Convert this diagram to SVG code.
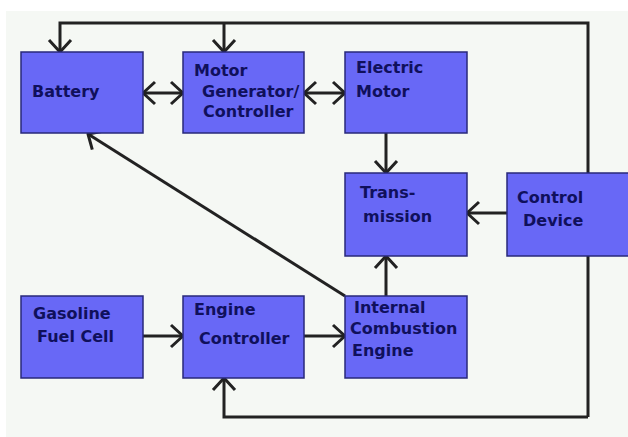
<svg xmlns="http://www.w3.org/2000/svg" width="628" height="437" viewBox="0 0 628 437">
<style>
.box{fill:#6868f6;stroke:#28287a;stroke-width:1.5}
.lbl{font-family:"DejaVu Sans","Liberation Sans",sans-serif;font-weight:bold;font-size:16px;fill:#10105c}
.ln{fill:none;stroke:#222;stroke-width:3}
</style>
<defs>
<marker id="a" viewBox="-3 -14 18 28" refX="12" refY="0" markerWidth="18" markerHeight="28" markerUnits="userSpaceOnUse" orient="auto-start-reverse">
<path d="M0,-11 L12,0 L0,11" fill="none" stroke="#222" stroke-width="3" stroke-linejoin="round"/>
</marker>
</defs>
<rect x="0" y="0" width="628" height="437" fill="#ffffff"/>
<rect x="6" y="11" width="622" height="426" fill="#f5f8f4"/>
<g id="connectors">
<path class="ln" d="M588,417 V23 H60 V52" marker-end="url(#a)"/>
<path class="ln" d="M224,23 V52" marker-end="url(#a)"/>
<path class="ln" d="M588,417 H224 V378" marker-end="url(#a)"/>
<path class="ln" d="M143,93 H183" marker-start="url(#a)" marker-end="url(#a)"/>
<path class="ln" d="M304,93 H345" marker-start="url(#a)" marker-end="url(#a)"/>
<path class="ln" d="M386,133 V173" marker-end="url(#a)"/>
<path class="ln" d="M507,213 H467" marker-end="url(#a)"/>
<path class="ln" d="M386,296 V256" marker-end="url(#a)"/>
<path class="ln" d="M345,296 L88,134" marker-end="url(#a)"/>
<path class="ln" d="M143,336 H183" marker-end="url(#a)"/>
<path class="ln" d="M304,336 H345" marker-end="url(#a)"/>
</g>
<g id="battery"><rect class="box" x="21" y="52" width="122" height="81"/>
<text class="lbl" x="32" y="97">Battery</text></g>
<g id="motor-generator"><rect class="box" x="183" y="52" width="121" height="81"/>
<text class="lbl"><tspan x="194" y="76">Motor</tspan><tspan x="202" y="97">Generator/</tspan><tspan x="203" y="117">Controller</tspan></text></g>
<g id="electric-motor"><rect class="box" x="345" y="52" width="122" height="81"/>
<text class="lbl"><tspan x="356" y="73">Electric</tspan><tspan x="356" y="97">Motor</tspan></text></g>
<g id="transmission"><rect class="box" x="345" y="173" width="122" height="83"/>
<text class="lbl"><tspan x="360" y="198">Trans-</tspan><tspan x="363" y="222">mission</tspan></text></g>
<g id="control-device"><rect class="box" x="507" y="173" width="126" height="83"/>
<text class="lbl"><tspan x="517" y="203">Control</tspan><tspan x="523" y="226">Device</tspan></text></g>
<g id="gasoline-fuel-cell"><rect class="box" x="21" y="296" width="122" height="82"/>
<text class="lbl"><tspan x="33" y="319">Gasoline</tspan><tspan x="37" y="342">Fuel Cell</tspan></text></g>
<g id="engine-controller"><rect class="box" x="183" y="296" width="121" height="82"/>
<text class="lbl"><tspan x="194" y="315">Engine</tspan><tspan x="199" y="344">Controller</tspan></text></g>
<g id="ice"><rect class="box" x="345" y="296" width="122" height="82"/>
<text class="lbl"><tspan x="354" y="313">Internal</tspan><tspan x="350" y="334">Combustion</tspan><tspan x="352" y="356">Engine</tspan></text></g>
</svg>
